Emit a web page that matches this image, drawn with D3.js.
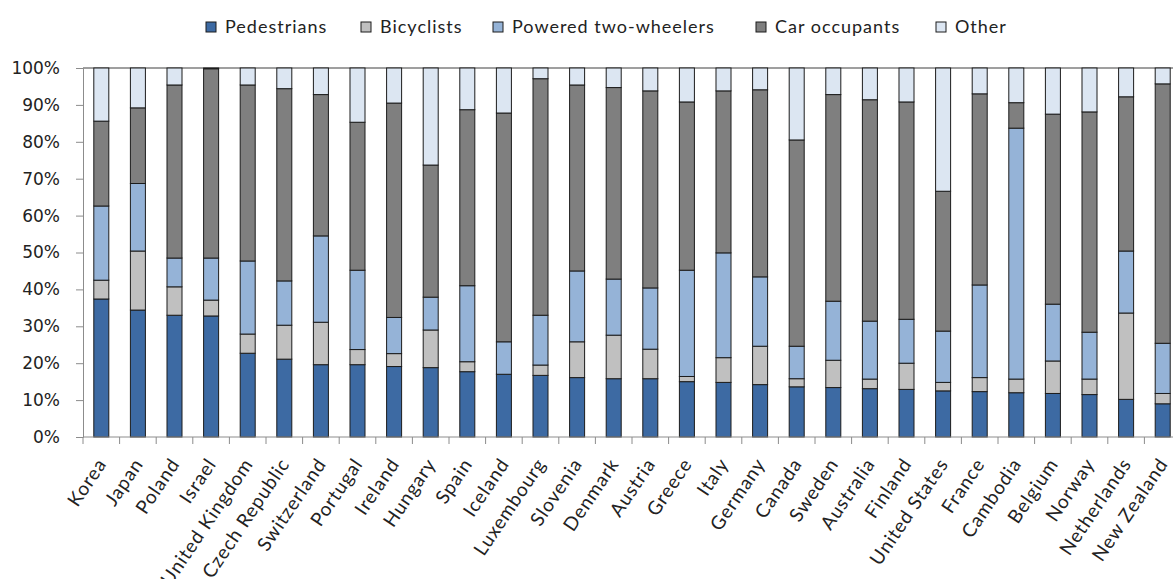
<!DOCTYPE html>
<html>
<head>
<meta charset="utf-8">
<script src="https://cdn.jsdelivr.net/npm/d3@7"></script>
<style>
  body { margin: 0; background: #fff; }
  svg { display: block; }
</style>
</head>
<body>
<div id="chart"></div>
<script>
// road deaths by user type, share of total
const countries = ["Korea", "Japan", "Poland", "Israel", "United Kingdom", "Czech Republic", "Switzerland",
  "Portugal", "Ireland", "Hungary", "Spain", "Iceland", "Luxembourg", "Slovenia", "Denmark", "Austria",
  "Greece", "Italy", "Germany", "Canada", "Sweden", "Australia", "Finland", "United States", "France",
  "Cambodia", "Belgium", "Norway", "Netherlands", "New Zealand"];

const pedestrians = [37.4, 34.4, 33.0, 32.8, 22.7, 21.1, 19.6, 19.6, 19.1, 18.8, 17.7, 17.0, 16.7, 16.1, 15.8,
  15.8, 15.0, 14.8, 14.2, 13.6, 13.4, 13.1, 12.9, 12.5, 12.3, 12.0, 11.8, 11.5, 10.2, 9.0];
const bicyclists = [5.1, 16.0, 7.7, 4.3, 5.2, 9.2, 11.5, 4.1, 3.5, 10.2, 2.7, 0, 2.8, 9.7, 11.8,
  8.0, 1.4, 6.7, 10.4, 2.2, 7.4, 2.6, 7.1, 2.3, 3.8, 3.7, 8.8, 4.2, 23.4, 2.8];
const twoWheelers = [20.1, 18.3, 7.8, 11.4, 19.8, 12.0, 23.4, 21.5, 9.8, 8.9, 20.6, 8.8, 13.5, 19.2, 15.2,
  16.6, 28.8, 28.4, 18.8, 8.8, 16.0, 15.7, 11.9, 13.9, 25.1, 68.0, 15.4, 12.7, 16.8, 13.6];
const carOccupants = [23.0, 20.5, 46.9, 51.3, 47.7, 52.1, 38.3, 40.1, 58.1, 35.8, 47.7, 62.0, 64.1, 50.4, 51.9,
  53.4, 45.6, 43.9, 50.7, 55.9, 56.0, 60.0, 58.9, 37.9, 51.8, 6.9, 51.5, 59.7, 41.8, 70.3];
const other = [14.4, 10.8, 4.6, 0.2, 4.6, 5.6, 7.2, 14.7, 9.5, 26.3, 11.3, 12.2, 2.9, 4.6, 5.3,
  6.2, 9.2, 6.2, 5.9, 19.5, 7.2, 8.6, 9.2, 33.4, 7.0, 9.4, 12.5, 11.9, 7.8, 4.3];

const seriesNames = ["Pedestrians", "Bicyclists", "Powered two-wheelers", "Car occupants", "Other"];
const colors = ["#3d6aa3", "#c0c0c0", "#95b3d7", "#7f7f7f", "#dce6f2"];

const width = 1173, height = 579;
const x0 = 83, x1 = 1181, yTop = 68, yBottom = 437;

const rows = countries.map((c, i) => ({
  country: c,
  "Pedestrians": pedestrians[i],
  "Bicyclists": bicyclists[i],
  "Powered two-wheelers": twoWheelers[i],
  "Car occupants": carOccupants[i],
  "Other": other[i]
}));

const svg = d3.select("#chart").append("svg")
  .attr("width", width)
  .attr("height", height);

const x = d3.scaleBand()
  .domain(countries)
  .range([x0, x1])
  .paddingInner(0.59)
  .paddingOuter(0.295);

const slot = d3.scaleBand().domain(countries).range([x0, x1]).padding(0);

const y = d3.scaleLinear().domain([0, 1]).range([yBottom, yTop]);

const color = d3.scaleOrdinal().domain(seriesNames).range(colors);

const stack = d3.stack().keys(seriesNames).offset(d3.stackOffsetExpand);
const layers = stack(rows);

// top border of plot
svg.append("line")
  .attr("x1", x0).attr("x2", width)
  .attr("y1", y(1)).attr("y2", y(1))
  .attr("stroke", "#404040")
  .attr("stroke-width", 1.2);

// bars
svg.append("g")
  .selectAll("g")
  .data(layers)
  .join("g")
  .attr("fill", d => color(d.key))
  .selectAll("rect")
  .data(d => d)
  .join("rect")
  .attr("x", d => x(d.data.country))
  .attr("y", d => y(d[1]))
  .attr("width", x.bandwidth())
  .attr("height", d => Math.max(0, y(d[0]) - y(d[1])))
  .attr("stroke", "#1c1c1c")
  .attr("stroke-width", 1);

// y axis
const yAxis = svg.append("g")
  .attr("transform", "translate(" + x0 + ",0)")
  .call(d3.axisLeft(y).ticks(10).tickFormat(d3.format(".0%")).tickSize(7).tickPadding(16));
yAxis.select(".domain").attr("stroke", "#8c8c8c");
yAxis.selectAll(".tick line").attr("stroke", "#8c8c8c");
yAxis.selectAll(".tick text")
  .attr("font-family", "DejaVu Sans")
  .attr("font-size", 17)
  .attr("fill", "#222");

// x axis line and ticks between categories
svg.append("line")
  .attr("x1", x0).attr("x2", x1)
  .attr("y1", yBottom).attr("y2", yBottom)
  .attr("stroke", "#8c8c8c");

svg.append("g")
  .selectAll("line")
  .data(countries.concat(["__end"]))
  .join("line")
  .attr("x1", d => d === "__end" ? x1 : slot(d))
  .attr("x2", d => d === "__end" ? x1 : slot(d))
  .attr("y1", yBottom)
  .attr("y2", yBottom + 7)
  .attr("stroke", "#8c8c8c");

// category labels
svg.append("g")
  .selectAll("text")
  .data(countries)
  .join("text")
  .attr("transform", d => "translate(" + (x(d) + x.bandwidth() / 2 + 6) + "," + (yBottom + 27) + ") rotate(-56)")
  .attr("text-anchor", "end")
  .attr("font-family", "Lato")
  .attr("font-size", 19)
  .attr("letter-spacing", 0.9)
  .attr("fill", "#222")
  .text(d => d);

// legend
const legendX = [206, 361, 493, 756, 936];
const legend = svg.append("g")
  .selectAll("g")
  .data(seriesNames)
  .join("g")
  .attr("transform", (d, i) => "translate(" + legendX[i] + ",22)");

legend.append("rect")
  .attr("width", 10)
  .attr("height", 10)
  .attr("fill", d => color(d))
  .attr("stroke", "#1c1c1c")
  .attr("stroke-width", 1);

legend.append("text")
  .attr("x", 19)
  .attr("y", 5)
  .attr("dy", "0.36em")
  .attr("font-family", "Lato")
  .attr("font-size", 18)
  .attr("letter-spacing", 1)
  .attr("fill", "#222")
  .text(d => d);
</script>
</body>
</html>
